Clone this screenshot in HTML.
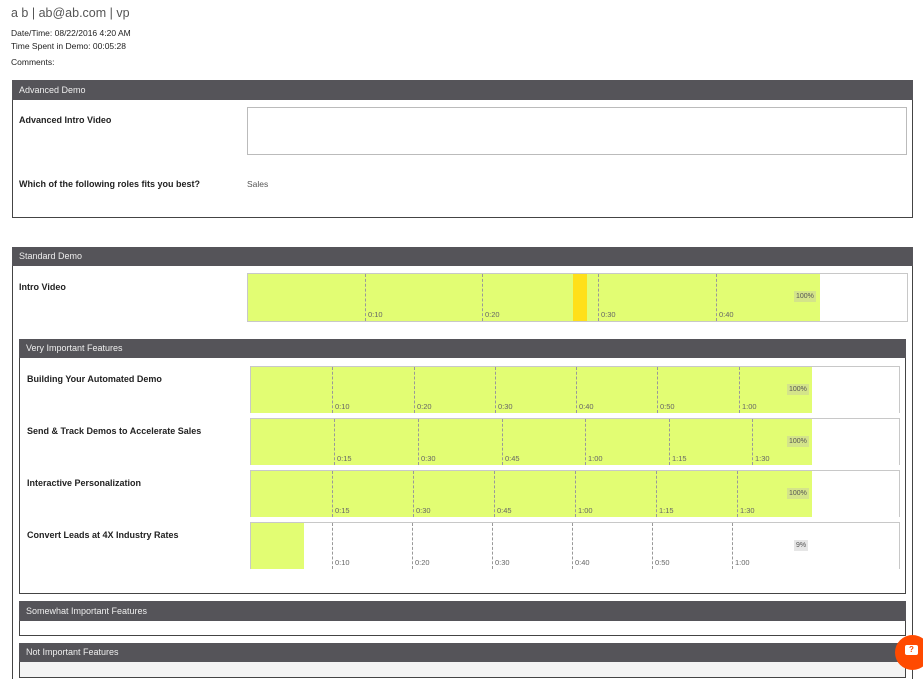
<!DOCTYPE html><html style="overflow:hidden;height:679px"><head><style>
html,body{margin:0;width:923px;height:679px;overflow:hidden}
body{background:#fff;font-family:"Liberation Sans",sans-serif;color:#222;position:relative}
.a{position:absolute}
.hd{position:absolute;background:#555459;color:#eee;font-size:9px;padding-left:7px;box-sizing:border-box;line-height:20px}
.box{position:absolute;border:1px solid #444;box-sizing:border-box}
.b{font-weight:bold;font-size:9px;position:absolute}
.ch{position:absolute;border:1px solid #c8c8c8;border-bottom:none;box-sizing:border-box;overflow:hidden}
.g{position:absolute;top:0;bottom:0;left:0;background:#e2fd73}
.t{position:absolute;top:0;bottom:0;border-left:1px dashed #999}
.t span{position:absolute;left:2px;bottom:2px;font-size:7.5px;color:#666}
.p{position:absolute;font-size:7px;color:#555;background:#d4e48a;padding:2px 2px}
</style></head><body>
<div class="a" style="left:11px;top:6px;font-size:12.5px;color:#555">a b | ab@ab.com | vp</div>
<div class="a" style="left:11px;top:28px;font-size:8.5px">Date/Time: 08/22/2016 4:20 AM</div>
<div class="a" style="left:11px;top:41px;font-size:8.5px">Time Spent in Demo: 00:05:28</div>
<div class="a" style="left:11px;top:57px;font-size:8.5px">Comments:</div>

<div class="box" style="left:12px;top:80px;width:901px;height:138px"></div>
<div class="hd" style="left:12px;top:80px;width:901px;height:20px">Advanced Demo</div>
<div class="b" style="left:19px;top:115px">Advanced Intro Video</div>
<div class="a" style="left:247px;top:107px;width:660px;height:48px;border:1px solid #bbb;box-sizing:border-box"></div>
<div class="b" style="left:19px;top:179px">Which of the following roles fits you best?</div>
<div class="a" style="left:247px;top:179px;font-size:8.5px;color:#555">Sales</div>

<div class="box" style="left:12px;top:247px;width:901px;height:440px"></div>
<div class="hd" style="left:12px;top:247px;width:901px;height:19px;line-height:19px">Standard Demo</div>
<div class="b" style="left:19px;top:282px">Intro Video</div>
<div class="ch" style="left:247px;top:273px;width:661px;height:49px;border-bottom:1px solid #c8c8c8">
<div class="g" style="width:572px"></div>
<div class="a" style="left:325px;top:0;bottom:0;width:14px;background:#ffe01a"></div>
<div class="t" style="left:117px"><span>0:10</span></div><div class="t" style="left:234px"><span>0:20</span></div><div class="t" style="left:350px"><span>0:30</span></div><div class="t" style="left:468px"><span>0:40</span></div>
<div class="p" style="left:546px;top:17px">100%</div></div>

<div class="box" style="left:19px;top:339px;width:887px;height:255px"></div>
<div class="hd" style="left:19px;top:339px;width:887px;height:19px;line-height:19px">Very Important Features</div>

<div class="b" style="left:27px;top:374px">Building Your Automated Demo</div>
<div class="ch" style="left:250px;top:366px;width:650px;height:47px"><div class="g" style="width:561px"></div>
<div class="t" style="left:81px"><span>0:10</span></div><div class="t" style="left:163px"><span>0:20</span></div><div class="t" style="left:244px"><span>0:30</span></div><div class="t" style="left:325px"><span>0:40</span></div><div class="t" style="left:406px"><span>0:50</span></div><div class="t" style="left:488px"><span>1:00</span></div>
<div class="p" style="left:536px;top:17px">100%</div></div>

<div class="b" style="left:27px;top:426px">Send &amp; Track Demos to Accelerate Sales</div>
<div class="ch" style="left:250px;top:418px;width:650px;height:47px"><div class="g" style="width:561px"></div>
<div class="t" style="left:83px"><span>0:15</span></div><div class="t" style="left:167px"><span>0:30</span></div><div class="t" style="left:251px"><span>0:45</span></div><div class="t" style="left:334px"><span>1:00</span></div><div class="t" style="left:418px"><span>1:15</span></div><div class="t" style="left:501px"><span>1:30</span></div>
<div class="p" style="left:536px;top:17px">100%</div></div>

<div class="b" style="left:27px;top:478px">Interactive Personalization</div>
<div class="ch" style="left:250px;top:470px;width:650px;height:47px"><div class="g" style="width:561px"></div>
<div class="t" style="left:81px"><span>0:15</span></div><div class="t" style="left:162px"><span>0:30</span></div><div class="t" style="left:243px"><span>0:45</span></div><div class="t" style="left:324px"><span>1:00</span></div><div class="t" style="left:405px"><span>1:15</span></div><div class="t" style="left:486px"><span>1:30</span></div>
<div class="p" style="left:536px;top:17px">100%</div></div>

<div class="b" style="left:27px;top:530px">Convert Leads at 4X Industry Rates</div>
<div class="ch" style="left:250px;top:522px;width:650px;height:47px"><div class="g" style="width:53px"></div>
<div class="t" style="left:81px"><span>0:10</span></div><div class="t" style="left:161px"><span>0:20</span></div><div class="t" style="left:241px"><span>0:30</span></div><div class="t" style="left:321px"><span>0:40</span></div><div class="t" style="left:401px"><span>0:50</span></div><div class="t" style="left:481px"><span>1:00</span></div>
<div class="p" style="left:543px;top:17px;background:#e6e6e6">9%</div></div>

<div class="box" style="left:19px;top:601px;width:887px;height:35px"></div>
<div class="hd" style="left:19px;top:601px;width:887px;height:20px">Somewhat Important Features</div>
<div class="box" style="left:19px;top:643px;width:887px;height:35px;background:#f3f3f3"></div>
<div class="hd" style="left:19px;top:643px;width:887px;height:19px;line-height:19px">Not Important Features</div>
<div class="a" style="left:895px;top:635px;width:35px;height:35px;border-radius:50%;background:#ff4a00"></div>
<div class="a" style="left:905px;top:645px;width:13px;height:10px;background:#fff;border-radius:2px;color:#ff4a00;font-size:8px;font-weight:bold;text-align:center;line-height:10px">?</div>
</body></html>
